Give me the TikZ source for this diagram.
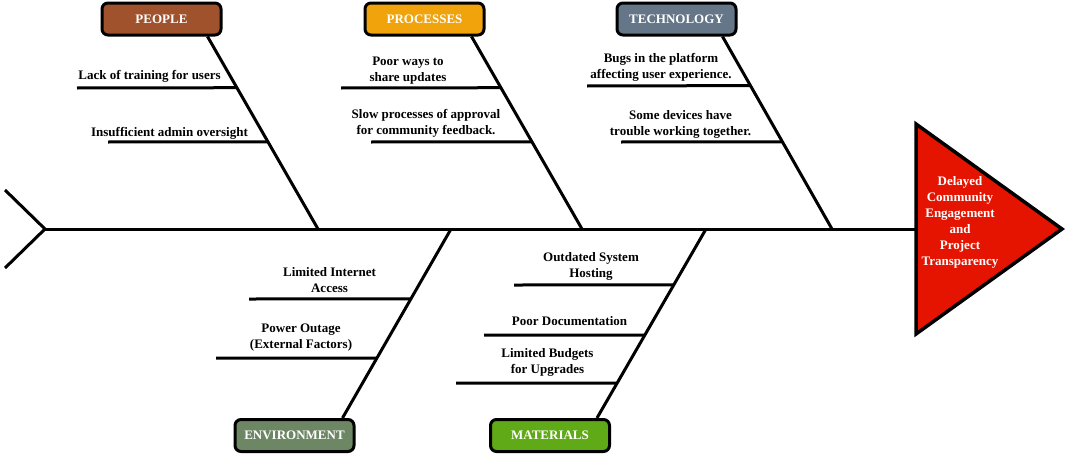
\documentclass[tikz,border=0pt]{standalone}
\usepackage{fontspec}
\setmainfont{Liberation Serif}
\usepackage{xcolor}
\usetikzlibrary{calc}

\definecolor{peoplebrown}{HTML}{A0522D}
\definecolor{processorange}{HTML}{F0A30A}
\definecolor{techslate}{HTML}{647687}
\definecolor{envolive}{HTML}{6D8764}
\definecolor{matgreen}{HTML}{60A917}
\definecolor{effectred}{HTML}{E51400}

\begin{document}
\begin{tikzpicture}[x=1pt, y=-1pt,
    cat/.style={rectangle, rounded corners=6pt, draw=black, line width=3pt, minimum width=119pt, minimum height=32pt, text=white, font=\fontsize{13}{16}\selectfont\bfseries},
    bone/.style={line width=3pt},
    note/.style={align=center, inner sep=0pt, font=\fontsize{13}{16}\selectfont\bfseries}]

        \useasboundingbox (0,0) rectangle (1066,455);

        %% Categories
        \node (people) [cat, fill=peoplebrown] at (161.5,19) {PEOPLE};
        \node (processes) [cat, fill=processorange] at (424.5,19) {PROCESSES};
        \node (technology) [cat, fill=techslate] at (676.5,19) {TECHNOLOGY};
        \node (environment) [cat, fill=envolive] at (294.5,435.5) {ENVIRONMENT};
        \node (materials) [cat, fill=matgreen] at (550,435.5) {MATERIALS};

        %% Spine
        \coordinate (tail) at (45,229);
        \coordinate (headMid) at (916,229);
        \draw [bone] (5,190) coordinate (finTop) -- (tail) -- (5,268) coordinate (finBot);
        \draw [bone] (tail) -- (headMid);

        %% Effect
        \draw [line width=3.5pt, fill=effectred] (916,124) coordinate (headTop) -- (1062,229) coordinate (headTip) -- (916,334) coordinate (headBot) -- cycle;
        \node (effect) [note, text=white] at (960,222) {Delayed\\Community\\Engagement\\and\\Project\\Transparency};

        %% Bones
        \coordinate (jPeople) at (318,229);
        \coordinate (jProcesses) at (582,229);
        \coordinate (jTechnology) at (832,229);
        \coordinate (jEnvironment) at (451,229);
        \coordinate (jMaterials) at (706,229);
        \coordinate (tPeople) at ($(people.south)+(46,0)$);
        \coordinate (tProcesses) at ($(processes.south)+(47,0)$);
        \coordinate (tTechnology) at ($(technology.south)+(46,0)$);
        \coordinate (tEnvironment) at ($(environment.north)+(48,0)$);
        \coordinate (tMaterials) at ($(materials.north)+(47,0)$);
        \draw [bone] (tPeople) -- (jPeople);
        \draw [bone] (tProcesses) -- (jProcesses);
        \draw [bone] (tTechnology) -- (jTechnology);
        \draw [bone] (jEnvironment) -- (tEnvironment);
        \draw [bone] (jMaterials) -- (tMaterials);

        %% People causes
        \node (training) [note] at (149.5,76) {Lack of training for users};
        \node (oversight) [note] at (169.5,133) {Insufficient admin oversight};
        \draw [bone] (77,88) coordinate (trainingEnd) -- ($(tPeople)!0.266!(jPeople)$);
        \draw [bone] (108,142) coordinate (oversightEnd) -- ($(tPeople)!0.547!(jPeople)$);

        %% Processes causes
        \node (sharing) [note] at (408,71) {Poor ways to\\share updates};
        \node (approval) [note] at (426,123) {Slow processes of approval\\for community feedback.};
        \draw [bone] (341,88) coordinate (sharingEnd) -- ($(tProcesses)!0.266!(jProcesses)$);
        \draw [bone] (371,142) coordinate (approvalEnd) -- ($(tProcesses)!0.547!(jProcesses)$);

        %% Technology causes
        \node (bugs) [note] at (661,67) {Bugs in the platform\\affecting user experience.};
        \node (devices) [note] at (680.5,124) {Some devices have\\trouble working together.};
        \draw [bone] (587,86) coordinate (bugsEnd) -- ($(tTechnology)!0.255!(jTechnology)$);
        \draw [bone] (621,142) coordinate (devicesEnd) -- ($(tTechnology)!0.547!(jTechnology)$);

        %% Environment causes
        \node (internet) [note] at (329.5,280) {Limited Internet\\Access};
        \node (power) [note] at (301,337.5) {Power Outage\\(External Factors)};
        \draw [bone] (249,299) coordinate (internetEnd) -- ($(jEnvironment)!0.370!(tEnvironment)$);
        \draw [bone] (216,358) coordinate (powerEnd) -- ($(jEnvironment)!0.683!(tEnvironment)$);

        %% Materials causes
        \node (hosting) [note] at (591,266) {Outdated System\\Hosting};
        \node (docs) [note] at (569.5,321) {Poor Documentation};
        \node (budgets) [note] at (547.5,362) {Limited Budgets\\for Upgrades};
        \draw [bone] (514,285) coordinate (hostingEnd) -- ($(jMaterials)!0.296!(tMaterials)$);
        \draw [bone] (484,335) coordinate (docsEnd) -- ($(jMaterials)!0.561!(tMaterials)$);
        \draw [bone] (456,383) coordinate (budgetsEnd) -- ($(jMaterials)!0.815!(tMaterials)$);

    \end{tikzpicture}
\end{document}
